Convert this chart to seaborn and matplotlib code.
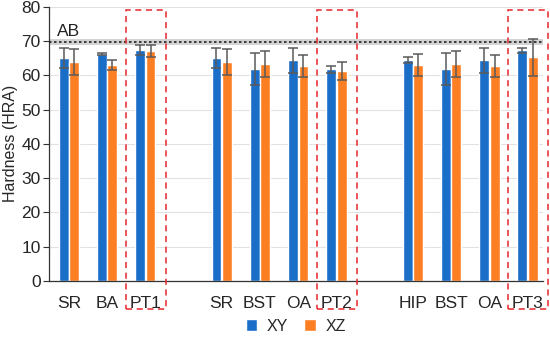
import numpy as np
import pandas as pd
import matplotlib
matplotlib.use("Agg")
import matplotlib.pyplot as plt
from matplotlib.patches import Rectangle
import seaborn as sns

# ---- data ----
slots = ["SR", "BA", "PT1", "", "SR", "BST", "OA", "PT2", "", "HIP", "BST", "OA", "PT3"]
xy_mean = [65.1, 66.1, 67.4, None, 65.1, 61.8, 64.4, 61.7, None, 64.4, 61.8, 64.4, 67.3]
xy_sd   = [3.0, 0.3, 1.5, None, 3.0, 4.7, 3.6, 1.1, None, 0.9, 4.7, 3.6, 0.7]
xz_mean = [63.8, 63.0, 67.1, None, 63.8, 63.3, 62.7, 61.3, None, 62.9, 63.3, 62.7, 65.2]
xz_sd   = [3.8, 1.5, 1.7, None, 3.8, 3.8, 3.1, 2.6, None, 3.2, 3.8, 3.1, 5.5]
series = ["XY", "XZ"]
ab_mean = 69.7
ab_sd = 0.9
highlight = ["PT1", "PT2", "PT3"]

colors = {"XY": "#1b6ec8", "XZ": "#fd7f23"}

keys = [f"k{i}" for i in range(len(slots))]
rows = []
for i, k in enumerate(keys):
    if xy_mean[i] is not None:
        rows.append({"key": k, "series": "XY", "value": xy_mean[i], "sd": xy_sd[i]})
        rows.append({"key": k, "series": "XZ", "value": xz_mean[i], "sd": xz_sd[i]})
df = pd.DataFrame(rows)

sns.set_theme(style="white")
plt.rcParams["font.family"] = ["Liberation Sans", "DejaVu Sans"]

fig = plt.figure(figsize=(5.5, 3.38), dpi=100)
ax = fig.add_axes([0.089, 0.169, 0.898, 0.811])

ax.set_axisbelow(True)
ax.yaxis.grid(True, color="#e2e2e2", linewidth=0.8)

sns.barplot(data=df, x="key", y="value", hue="series", order=keys,
            hue_order=series, palette=colors, errorbar=None,
            width=0.55, gap=0.06, saturation=1, ax=ax, zorder=2)

# error bars at bar centers
lookup = {(r.key, r.series): r.sd for r in df.itertuples()}
for cont, s in zip(ax.containers, series):
    for bar in cont:
        cx = bar.get_x() + bar.get_width() / 2
        h = bar.get_height()
        if np.isnan(h):
            continue
        idx = int(round(cx))
        sd = lookup[(keys[idx], s)]
        ax.errorbar(cx, h, yerr=sd, fmt="none", ecolor="#5a5a5a",
                    elinewidth=1.1, capsize=3.5, capthick=1.1, zorder=3)

# AB reference band
ax.axhspan(ab_mean - ab_sd, ab_mean + ab_sd, color="#c8c8c8", alpha=0.8, zorder=1, lw=0)
ax.axhline(ab_mean, color="#222222", linestyle=(0, (1.5, 1.5)), linewidth=1.2, zorder=4)
ax.text(-0.3, ab_mean + 1.0, "AB", fontsize=12.5, ha="left", va="bottom", color="#222222")

ax.set_ylim(0, 80)
ax.set_xlim(-0.52, 12.4)
ax.set_yticks(range(0, 81, 10))
ax.set_xticks(range(len(slots)))
ax.set_xticklabels(slots, fontsize=12.5)
ax.tick_params(axis="y", labelsize=12.5, left=True, length=4, width=0.8, color="#333333", pad=2)
ax.tick_params(axis="x", bottom=False, pad=5)
ax.set_xlabel("")
ax.set_ylabel("Hardness (HRA)", fontsize=11.5, labelpad=2)
for sp in ["top", "right"]:
    ax.spines[sp].set_visible(False)
for sp in ["left", "bottom"]:
    ax.spines[sp].set_color("#333333")
    ax.spines[sp].set_linewidth(0.9)

# highlight boxes
for name in highlight:
    i = slots.index(name)
    rect = Rectangle((i - 0.5, -8.2), 1.04, 79.0 + 8.2, fill=False,
                     edgecolor="#e8262b", linestyle=(0, (4, 3)), linewidth=1.1,
                     clip_on=False, zorder=5, transform=ax.transData)
    ax.add_patch(rect)

sns.move_legend(ax, "center", bbox_to_anchor=(0.5, -0.165), ncol=2,
                frameon=False, title=None, fontsize=11.5, handlelength=0.7,
                handleheight=0.7, columnspacing=1.0, handletextpad=0.6)

fig.savefig("out.png", dpi=100)
